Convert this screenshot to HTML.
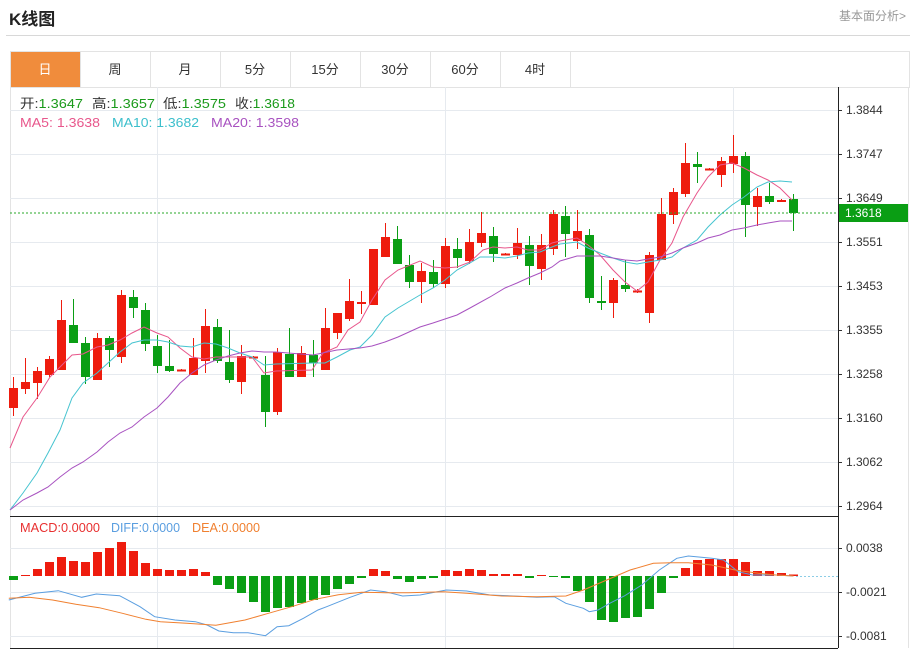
<!DOCTYPE html>
<html><head><meta charset="utf-8"><style>
body{margin:0;background:#fff;width:912px;height:650px;overflow:hidden;font-family:"Liberation Sans","Noto Sans CJK SC",sans-serif;}
#t{position:absolute;left:9px;top:5px;font-size:17px;font-weight:bold;color:#222;}
#r{position:absolute;right:6px;top:7px;font-size:12px;color:#999;}
</style></head><body>
<div id="t">K线图</div><div id="r">基本面分析&gt;</div>
<svg id="s" width="912" height="650" style="position:absolute;left:0;top:0" xmlns="http://www.w3.org/2000/svg"></svg>
<script>
var S='';
function L(x1,y1,x2,y2,c,w,d){S+='<line x1="'+x1+'" y1="'+y1+'" x2="'+x2+'" y2="'+y2+'" stroke="'+c+'" stroke-width="'+(w||1)+'"'+(d?' stroke-dasharray="'+d+'"':'')+'/>';}
function R(x,y,w,h,c,st){S+='<rect x="'+x+'" y="'+y+'" width="'+w+'" height="'+h+'" fill="'+c+'"'+(st?' stroke="'+st+'"':'')+'/>';}
function T(x,y,t,c,sz,a){S+='<text x="'+x+'" y="'+y+'" fill="'+c+'" font-size="'+(sz||12)+'"'+(a?' text-anchor="'+a+'"':'')+'>'+t+'</text>';}
function TL(x,y,t,c,len){S+='<text x="'+x+'" y="'+y+'" font-size="13" textLength="'+len+'" lengthAdjust="spacingAndGlyphs" fill="'+c+'">'+t+'</text>';}
function P(pts,c){S+='<polyline fill="none" stroke="'+c+'" stroke-width="1" points="'+pts.map(function(p){return p[0]+','+p[1]}).join(' ')+'"/>';}
L(6,35.5,910,35.5,'#d8d8d8');
R(10.5,51.5,899,36,'#fff','#e3e3e3');
R(11,52,69,35,'#f08c3c');
var tabs=['日','周','月','5分','15分','30分','60分','4时'];
for(var i=0;i<8;i++){ if(i>0)L(10.5+70*i,52,10.5+70*i,87,'#e3e3e3'); T(45+70*i,74,tabs[i],i==0?'#fff':'#333',13,'middle');}
L(570.5,52,570.5,87,'#e3e3e3');
L(10.5,87,10.5,648,'#e3e3e3');L(908.5,87,908.5,648,'#e3e3e3');
var ys=[110,154,198,242,286,330,374,418,462,506],lb=['1.3844','1.3747','1.3649','1.3551','1.3453','1.3355','1.3258','1.3160','1.3062','1.2964'];
for(i=0;i<10;i++){L(10,ys[i]+.5,838,ys[i]+.5,'#e6eaef');L(838,ys[i]+.5,842,ys[i]+.5,'#333');T(846,ys[i]+4,lb[i],'#333',12);}
[157,445,733].forEach(function(x){L(x+.5,87,x+.5,648,'#e6eaef');});
var my=[548,592,636],ml=['0.0038','-0.0021','-0.0081'];
for(i=0;i<3;i++){L(10,my[i]+.5,838,my[i]+.5,'#e6eaef');L(838,my[i]+.5,842,my[i]+.5,'#333');T(846,my[i]+4,ml[i],'#333',12);}
var C=[[377,416,408,388],[358,394,389,382],[367,399,383,371],[356,377,375,359],[300,370,370,320],[299,343,325,343],[337,384,343,377],[333,380,380,338],[336,367,338,350],[290,363,357,295],[290,318,297,308],[303,351,310,344],[335,373,346,366],[340,372,366,371],[369,371,370,369.5],[338,375,375,358],[309,373,361,326],[319,363,327,361],[330,383,362,380],[345,394,382,356],[356,358,357,356.5],[356,427,375,412],[348,415,412,352],
[328,377,354,377],[346,377,377,353],[340,377,355,363],[308,370,370,328],[313,339,333,313],[279,321,319,301],[291,314,303,302],[249,305,305,249],[223,257,257,237],[226,264,239,264],[255,288,265,282],[263,303,282,271],[260,288,272,284],[238,288,284,246],[238,268,249,258],[229,264,261,242],[212,247,243,233],[227,262,236,254],[253,255,254.5,253.5],[228,259,255,243],[236,285,245,266],[234,280,269,245],[210,255,249,214],[206,257,216,234],
[210,249,241,231],[229,303,235,298],[276,310,301,303],[278,318,303,280],[260,292,285,289],[289,293,291.5,290.5],[252,323,313,255],[198,260,260,214],[188,224,215,192],[143,197,194,163],[152,183,164,167],[168,170,169.5,168.5],[157,187,175,161],[135,173,164,156],[152,237,156,205],[188,226,207,196],[183,204,196,202],[199,202,201,200],[194,231,199,213]];
for(i=0;i<C.length;i++){var c=C[i],x=13+12*i,up=c[3]<=c[2],col=up?'#ee1c0e':'#0a9e14';
 L(x+.5,c[0],x+.5,c[1],col);var t=Math.min(c[2],c[3]),h=Math.max(2,Math.abs(c[2]-c[3]));R(x-4,t,9,h,col);}
P([[10,448],[23,417],[37,398],[50,377],[62,365],[72,355],[83,354],[97,347],[108,345],[120,340],[132,333],[144,327],[157,333],[168,337],[180,348],[192,357],[204,359],[216,357],[228,357],[240,357],[252,357],[264,373],[276,371],[312,370],[323,353],[337,347],[348,330],[360,322],[372,300],[385,280],[398,270],[420,261],[433,267],[445,268],[457,267],[470,262],[483,250],[493,247],[505,248],[517,247],[528,250],[540,250],[552,243],[560,241],[577,238],[588,245],[600,255],[613,270],[625,282],[637,291],[648,282],[660,260],[672,243],[683,217],[697,193],[708,177],[720,165],[732,163],[744,168],[757,175],[768,180],[780,188],[792,200]],'#e8578c');
P([[10,510],[23,493],[37,473],[48,453],[60,430],[72,398],[83,383],[97,373],[108,363],[120,352],[132,343],[144,340],[157,340],[168,342],[180,346],[192,347],[204,343],[216,344],[228,348],[240,353],[252,357],[264,365],[276,364],[313,363],[325,363],[337,357],[350,350],[360,347],[372,335],[385,317],[398,308],[420,295],[433,288],[445,280],[457,270],[470,263],[480,257],[493,257],[505,258],[517,256],[528,253],[540,252],[552,247],[560,244],[577,242],[588,248],[600,253],[613,258],[625,262],[637,264],[648,262],[660,260],[672,257],[683,248],[697,240],[708,227],[720,215],[732,205],[744,197],[757,187],[768,182],[780,181],[792,182]],'#46c4d0');
P([[10,510],[23,500],[37,493],[48,487],[60,477],[72,468],[83,462],[97,452],[108,442],[120,433],[132,427],[144,417],[157,408],[168,397],[180,383],[192,373],[204,365],[216,360],[228,356],[240,353],[252,351],[264,352],[276,352],[313,355],[337,350],[360,348],[372,346],[385,342],[398,337],[420,327],[433,323],[445,319],[457,315],[470,308],[490,297],[505,288],[517,283],[528,278],[540,273],[552,267],[560,261],[577,256],[588,256],[600,256],[613,258],[625,260],[637,261],[648,259],[660,257],[672,253],[683,248],[697,243],[708,238],[720,235],[732,230],[744,228],[757,225],[768,223],[780,221],[792,221]],'#a852c0');
L(10,213,838,213,'#2aa82a',1,'2,2');
R(839,204,69,18,'#0a9e14');T(845,217,'1.3618','#fff',12);
var M=[580,575,569,562,557,561,562,552,548,542,551,563,569,570,570,569,572,585,589,593,602,612,608,607,603,600,595,589,584,578,569,571,579,582,579,578,570,571,569,570,574,574,574,578,575,577,578,591,602,620,622,618,617,609,593,578,568,560,559,559,559,562,571,571,573,574.5];
for(i=0;i<M.length;i++){var x=13+12*i,v=M[i];if(v<576)R(x-4,v,9,576-v,'#ee1c0e');else R(x-4,576,9,Math.max(1,v-576),'#0a9e14');}
L(796,576.5,838,576.5,'#8ccde6',1,'2,2');
function cv(a){return a.map(function(p){return [(p[0]/1.714).toFixed(1),(510+p[1]/3).toFixed(1)];});}
P(cv([[15,270],[60,250],[100,242],[140,262],[165,252],[205,257],[240,290],[265,320],[300,330],[335,335],[355,345],[375,363],[400,368],[425,368],[455,377],[475,350],[495,347],[520,325],[545,300],[560,290],[600,262],[635,240],[660,245],[690,258],[720,255],[765,240],[800,243],[840,255],[880,258],[920,262],[950,260],[970,280],[1000,295],[1010,305],[1025,300],[1045,280],[1070,258],[1100,225],[1130,180],[1160,145],[1180,138],[1220,145],[1240,150],[1265,185],[1290,195],[1330,195],[1360,198]]),'#5a9ee0');
P(cv([[15,265],[50,262],[90,270],[130,283],[170,293],[210,310],[250,328],[275,335],[320,340],[370,346],[420,330],[460,310],[500,290],[540,268],[580,254],[620,247],[660,248],[700,248],[760,245],[800,250],[860,258],[920,260],[970,258],[1000,240],[1040,210],[1080,180],[1120,160],[1150,158],[1180,158],[1220,165],[1260,180],[1300,190],[1330,195],[1360,198]]),'#f08030');
L(838.5,87,838.5,648,'#222');L(10,516.5,838,516.5,'#222');L(10,648.5,838,648.5,'#222');
var G='#1a9a1a';
S+='<text x="20" y="108" font-size="13" textLength="63" lengthAdjust="spacingAndGlyphs" fill="#333">开:<tspan fill="'+G+'">1.3647</tspan></text>';
S+='<text x="92" y="108" font-size="13" textLength="63" lengthAdjust="spacingAndGlyphs" fill="#333">高:<tspan fill="'+G+'">1.3657</tspan></text>';
S+='<text x="163" y="108" font-size="13" textLength="63" lengthAdjust="spacingAndGlyphs" fill="#333">低:<tspan fill="'+G+'">1.3575</tspan></text>';
S+='<text x="235" y="108" font-size="13" textLength="60" lengthAdjust="spacingAndGlyphs" fill="#333">收:<tspan fill="'+G+'">1.3618</tspan></text>';
TL(20,127,'MA5: 1.3638','#e8578c',80);TL(112,127,'MA10: 1.3682','#3cbfcc',87);TL(211,127,'MA20: 1.3598','#a852c0',88);
TL(20,532,'MACD:0.0000','#e83030',80);TL(111,532,'DIFF:0.0000','#5a9ee0',69);TL(192,532,'DEA:0.0000','#f08030',68);
document.getElementById('s').innerHTML=S;
</script>
</body></html>
